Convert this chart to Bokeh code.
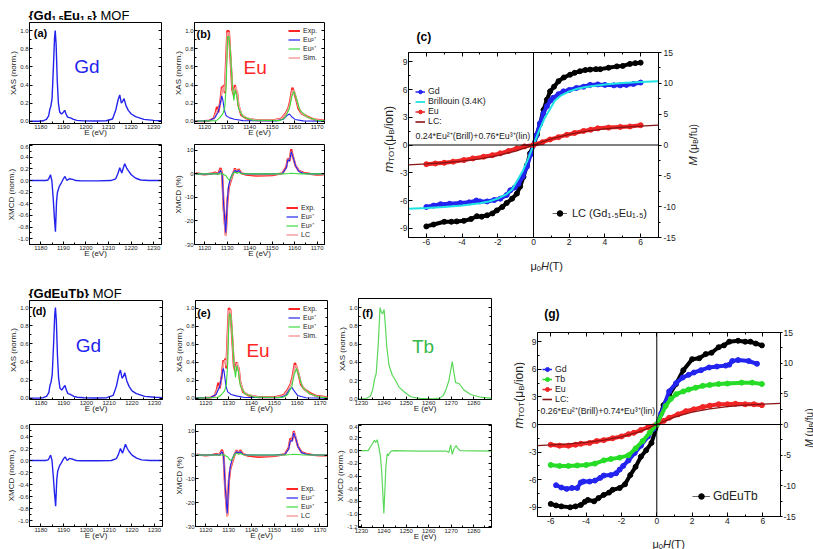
import math
from bokeh.plotting import figure
from bokeh.models import (Range1d, LinearAxis, FixedTicker, PrintfTickFormatter, Label,
                          Legend, LegendItem, Span)
from bokeh.layouts import row, column
from bokeh.embed import file_html
from bokeh.resources import INLINE

# ---------------- tick values ----------------
gd_xt = [1180, 1190, 1200, 1210, 1220, 1230]
gd_xm = [1175, 1185, 1195, 1205, 1215, 1225]
eu_xt = [1120, 1130, 1140, 1150, 1160, 1170]
eu_xm = [1125, 1135, 1145, 1155, 1165]
tb_xt = [1230, 1240, 1250, 1260, 1270, 1280]
tb_xm = [1235, 1245, 1255, 1265, 1275, 1285]
xas_yt = [0.0, 0.2, 0.4, 0.6, 0.8, 1.0]
xas_ym = [0.1, 0.3, 0.5, 0.7, 0.9]
gdm_yt = [-1.0, -0.8, -0.6, -0.4, -0.2, 0.0, 0.2, 0.4, 0.6]
gdm_ym = [-0.9, -0.7, -0.5, -0.3, -0.1, 0.1, 0.3, 0.5]
eum_yt = [-30, -20, -10, 0, 10]
eum_ym = [-25, -15, -5, 5]
tbm_yt = [-1.2, -1.0, -0.8, -0.6, -0.4, -0.2, 0.0, 0.2, 0.4]
tbm_ym = [-1.1, -0.9, -0.7, -0.5, -0.3, -0.1, 0.1, 0.3]
m_xt = [-6, -4, -2, 0, 2, 4, 6]
m_xm = [-7, -5, -3, -1, 1, 3, 5, 7]
m_yt = [-9, -6, -3, 0, 3, 6, 9]
m_ym = [-7.5, -4.5, -1.5, 1.5, 4.5, 7.5]
M_yt = [-15, -10, -5, 0, 5, 10, 15]
M_ym = [-12.5, -7.5, -2.5, 2.5, 7.5, 12.5]

# ---------------- Gd spectra ----------------
gd_e = [1175, 1179, 1181, 1182.5, 1183.5, 1184.0, 1184.5, 1185.0, 1185.6, 1186.1, 1186.4, 1186.8,
        1187.3, 1187.8, 1188.4, 1189.2, 1190.0, 1190.6, 1191.2, 1191.9, 1192.7, 1193.4, 1194.5,
        1196, 1199, 1204, 1209, 1211.8, 1213.2, 1214.3, 1215.0, 1215.7, 1216.3, 1216.9, 1217.8,
        1218.8, 1220.1, 1222.0, 1225.7, 1230, 1233.5]
gd_a_xas = [0, 0, 0.005, 0.02, 0.06, 0.13, 0.17, 0.25, 0.6, 0.92, 1.0, 0.85, 0.45, 0.2, 0.1, 0.08,
            0.1, 0.12, 0.08, 0.045, 0.04, 0.035, 0.02, 0.01, 0.004, 0.002, 0.005, 0.025, 0.12, 0.24,
            0.29, 0.2, 0.22, 0.25, 0.17, 0.12, 0.08, 0.05, 0.02, 0.01, 0.006]
gd_d_xas = [0, 0, 0.005, 0.02, 0.06, 0.14, 0.18, 0.26, 0.6, 0.92, 1.0, 0.86, 0.47, 0.22, 0.11, 0.09,
            0.12, 0.14, 0.09, 0.05, 0.045, 0.035, 0.02, 0.01, 0.004, 0.002, 0.005, 0.03, 0.13, 0.26,
            0.31, 0.22, 0.24, 0.28, 0.19, 0.13, 0.08, 0.05, 0.02, 0.01, 0.006]
gdm_e = [1175, 1182, 1183.2, 1183.8, 1184.3, 1184.9, 1185.5, 1186.0, 1186.5, 1187.0, 1187.4, 1188.2,
         1189.0, 1190.0, 1190.7, 1191.6, 1192.6, 1194.1, 1195.6, 1198, 1205, 1211, 1213.2, 1214.2,
         1215.0, 1215.9, 1216.6, 1217.2, 1218.0, 1218.8, 1220.1, 1222.1, 1224.3, 1228, 1233.5]
gd_a_mcd = [0, 0, 0.01, 0.05, 0.1, 0.0, -0.3, -0.62, -0.88, -0.35, -0.2, -0.1, -0.05, 0.03, 0.07,
            0.0, 0.03, 0.02, 0.0, -0.005, -0.005, 0.0, 0.03, 0.12, 0.22, 0.13, 0.22, 0.29, 0.22,
            0.17, 0.1, 0.04, 0.01, 0.0, 0.0]
gd_d_mcd = [0, 0, 0.01, 0.05, 0.09, 0.0, -0.28, -0.55, -0.76, -0.32, -0.18, -0.09, -0.04, 0.03,
            0.06, 0.0, 0.035, 0.02, 0.0, -0.005, -0.005, 0.0, 0.03, 0.11, 0.2, 0.12, 0.2, 0.27,
            0.2, 0.15, 0.09, 0.04, 0.01, 0.0, 0.0]

# ---------------- Eu spectra ----------------
eu_exp_e = [1115.5, 1120, 1122.2, 1124.0, 1124.8, 1125.5, 1126.1, 1127.0, 1127.7, 1128.2, 1128.6,
            1129.0, 1129.6, 1130.1, 1130.8, 1131.5, 1132.3, 1132.9, 1133.5, 1133.9, 1134.4, 1135.0,
            1136.3, 1138.6, 1143.0, 1150.5, 1154.2, 1156.0, 1157.2, 1158.0, 1159.0, 1159.7, 1160.6,
            1161.7, 1163.1, 1165.4, 1168.3, 1173.3]
eu_b_exp = [0.0, 0.002, 0.007, 0.03, 0.086, 0.16, 0.1, 0.22, 0.38, 0.37, 0.4, 0.31, 0.7, 1.0, 0.99,
            0.7, 0.35, 0.29, 0.4, 0.31, 0.33, 0.18, 0.067, 0.03, 0.011, 0.011, 0.03, 0.086, 0.14,
            0.22, 0.37, 0.33, 0.25, 0.14, 0.086, 0.056, 0.022, 0.007]
eu_b_sim = [0, 0.002, 0.006, 0.025, 0.07, 0.12, 0.12, 0.2, 0.34, 0.37, 0.38, 0.33, 0.65, 0.97, 0.98,
            0.72, 0.38, 0.3, 0.36, 0.38, 0.34, 0.2, 0.08, 0.035, 0.012, 0.01, 0.028, 0.08, 0.13,
            0.2, 0.34, 0.34, 0.27, 0.16, 0.09, 0.05, 0.02, 0.006]
eu_e_exp = [0, 0.002, 0.007, 0.03, 0.09, 0.17, 0.11, 0.25, 0.42, 0.4, 0.44, 0.33, 0.72, 1.0, 0.98,
            0.7, 0.36, 0.3, 0.4, 0.33, 0.34, 0.19, 0.07, 0.03, 0.012, 0.012, 0.035, 0.1, 0.16, 0.24,
            0.39, 0.35, 0.27, 0.15, 0.1, 0.06, 0.025, 0.008]
eu_e_sim = [0, 0.002, 0.006, 0.025, 0.075, 0.13, 0.13, 0.23, 0.38, 0.41, 0.42, 0.36, 0.68, 0.97,
            0.98, 0.72, 0.38, 0.31, 0.37, 0.39, 0.34, 0.2, 0.08, 0.035, 0.012, 0.01, 0.03, 0.09,
            0.15, 0.22, 0.36, 0.36, 0.28, 0.17, 0.1, 0.05, 0.02, 0.006]
eu3_e = [1115.5, 1125.2, 1126.7, 1128.2, 1129.0, 1129.6, 1130.2, 1130.8, 1131.4, 1132.3, 1133.0,
         1133.6, 1134.4, 1135.1, 1137.1, 1141.5, 1153.5, 1155.7, 1157.7, 1158.7, 1159.7, 1160.9,
         1162.4, 1165.4, 1169.8, 1173.3]
eu_b_eu3 = [0, 0.007, 0.037, 0.086, 0.16, 0.4, 0.93, 0.94, 0.78, 0.4, 0.23, 0.35, 0.27, 0.14, 0.05,
            0.011, 0.007, 0.037, 0.14, 0.27, 0.33, 0.24, 0.12, 0.05, 0.011, 0.004]
eu_e_eu3 = [0, 0.007, 0.035, 0.08, 0.15, 0.38, 0.92, 0.94, 0.78, 0.4, 0.23, 0.36, 0.28, 0.14, 0.05,
            0.011, 0.007, 0.035, 0.13, 0.26, 0.33, 0.24, 0.12, 0.05, 0.011, 0.004]
eu2_e = [1115.5, 1122.2, 1124.5, 1126.0, 1127.0, 1127.6, 1128.0, 1128.8, 1129.6, 1131.1, 1133.3,
         1137.1, 1152.0, 1155.0, 1156.8, 1157.7, 1158.7, 1160.2, 1163.9, 1173.3]
eu_b_eu2 = [0, 0.007, 0.037, 0.1, 0.2, 0.28, 0.25, 0.12, 0.06, 0.037, 0.022, 0.007, 0.004, 0.022,
            0.067, 0.08, 0.05, 0.02, 0.004, 0.0]
eu_e_eu2 = [0, 0.008, 0.04, 0.12, 0.24, 0.33, 0.3, 0.14, 0.07, 0.04, 0.025, 0.008, 0.005, 0.03, 0.1,
            0.12, 0.08, 0.03, 0.005, 0.0]

eum_e = [1116, 1120, 1123, 1124.6, 1126.0, 1127.1, 1127.8, 1128.5, 1129.4, 1130.1, 1130.7, 1131.6,
         1132.6, 1133.5, 1134.2, 1135.1, 1136.3, 1138.5, 1142.9, 1147, 1150.2, 1154.6, 1156.3,
         1157.0, 1157.8, 1158.5, 1159.4, 1160.4, 1161.9, 1164, 1167, 1170, 1173]
eum_b_exp = [0.2, -0.2, 0.1, 0.6, 0.0, 2.5, 0.0, -15, -26, -12, -6, -3, 0.0, 2.3, 0.5, 2.0, 0.3,
             -0.3, -0.7, -0.6, -0.5, 0.3, 3.0, 6.5, 5.5, 10.5, 7.0, 3.5, 1.3, 0.5, 0.0, -0.3, -0.2]
eum_b_lc = [0, 0, 0, 0.3, 0, 1.8, -0.5, -16, -26.5, -11, -5.5, -2.5, 0.2, 1.8, 0.7, 1.6, 0.3, 0,
            -0.3, -0.3, -0.2, 0.2, 2.5, 6, 5.5, 9.5, 7.5, 3.5, 1.2, 0.3, 0, 0, 0]
eum_b_eu2 = [0, 0, 0, 0.2, 0, 1.5, -0.5, -14, -25, -11, -5, -1.5, 0.3, 1.5, 0.8, 1.5, 0.3, 0, 0, 0,
             0, 0.2, 2.5, 6, 5.5, 9.5, 7, 3.5, 1, 0.3, 0, 0, 0]
eum_e_exp = [0.2, -0.2, 0.1, 0.4, 0.0, 2.2, 0.0, -14, -25.5, -11, -6, -3, 0.0, 2.0, 0.6, 2.0, 0.4,
             -0.3, -0.8, -0.6, -0.4, 0.3, 3.0, 7.0, 6.0, 10.0, 7.0, 3.5, 1.3, 0.5, 0.0, -0.2, -0.2]
eum_e_lc = [0, 0, 0, 0.2, 0, 1.6, -0.5, -15, -26, -10.5, -5.5, -2.5, 0.2, 1.7, 0.8, 1.6, 0.3, 0,
            -0.3, -0.3, -0.2, 0.2, 2.5, 6.2, 6.0, 9.5, 7.5, 3.5, 1.2, 0.3, 0, 0, 0]
eum_e_eu2 = [0, 0, 0, 0.2, 0, 1.4, -0.5, -13.5, -24.5, -10.5, -5, -1.5, 0.3, 1.4, 0.8, 1.4, 0.3, 0,
             0, 0, 0, 0.2, 2.5, 6, 5.8, 9.3, 7, 3.5, 1, 0.3, 0, 0, 0]
eum3_e = [1116, 1128, 1129.5, 1130.3, 1131.0, 1131.8, 1132.6, 1133.5, 1134.3, 1135.2, 1136.5, 1140,
          1155, 1157.5, 1158.5, 1160, 1163, 1173]
eum_b_eu3 = [0, 0, -0.8, -2.0, -2.6, -1.5, 0.2, 0.8, 0.3, 0.6, 0.1, 0, 0, 0.2, 0.3, 0.2, 0, 0]
eum_e_eu3 = [0, 0, -0.7, -1.8, -2.3, -1.4, 0.2, 0.8, 0.3, 0.6, 0.1, 0, 0, 0.2, 0.3, 0.2, 0, 0]

# ---------------- Tb spectra ----------------
tb_e = [1228.7, 1232, 1234, 1235, 1235.9, 1236.6, 1237.5, 1238.3, 1238.9, 1239.4, 1240.1, 1240.7,
        1241.3, 1242.3, 1243.8, 1245.3, 1246.8, 1249, 1252, 1256, 1262, 1265, 1266.5, 1267.5, 1269,
        1270.5, 1271.3, 1272, 1273.5, 1275.7, 1278.7, 1283.2, 1288]
tb_xas = [0, 0.005, 0.03, 0.1, 0.22, 0.28, 0.6, 1.0, 0.95, 0.93, 0.98, 0.8, 0.57, 0.37, 0.26, 0.2,
          0.13, 0.08, 0.025, 0.007, 0.003, 0.01, 0.04, 0.09, 0.2, 0.41, 0.28, 0.18, 0.17, 0.1, 0.05,
          0.02, 0.008]
tbm_e = [1228.7, 1233, 1234.8, 1235.8, 1236.4, 1237.0, 1237.8, 1238.5, 1239.0, 1239.4, 1240.0,
         1240.4, 1240.9, 1241.5, 1242.0, 1242.5, 1243.3, 1244.5, 1255, 1268, 1269, 1269.8, 1270.5,
         1271.2, 1272.2, 1273, 1274, 1288]
tb_mcd = [0, 0, 0.1, 0.16, 0.13, 0.17, 0.05, -0.1, -0.31, -0.57, -0.99, -0.68, -0.26, -0.05, -0.08,
          -0.04, -0.01, 0.0, -0.01, -0.01, -0.03, 0.09, -0.06, 0.02, 0.08, 0.03, 0.0, -0.01]

# ---------------- magnetization (c) ----------------
c_gd_h = [-6.0, -5.6, -5.2, -4.7, -4.1, -3.6, -3.2, -3.0, -2.6, -2.2, -1.86, -1.5, -1.3, -1.05, -0.84,
          -0.6, -0.37, -0.15, 0.0, 0.15, 0.37, 0.55, 0.75, 0.95, 1.1, 1.4, 1.68, 2.0, 2.4, 2.8, 3.17,
          3.6, 4.0, 4.5, 4.86, 5.2, 5.6, 6.0]
c_gd_m = [-6.7, -6.55, -6.4, -6.35, -6.27, -6.2, -6.0, -6.1, -6.1, -5.95, -5.8, -5.4, -4.9, -4.6, -4.2,
          -3.4, -2.35, -1.0, 0.0, 1.0, 2.35, 3.4, 4.2, 4.8, 5.1, 5.5, 5.8, 5.95, 6.16, 6.3, 6.5, 6.55,
          6.5, 6.45, 6.45, 6.5, 6.6, 6.75]
c_lc_h = [-6.0, -5.6, -5.0, -4.6, -4.3, -3.9, -3.5, -3.17, -2.9, -2.6, -2.3, -2.05, -1.75, -1.5, -1.2,
          -0.93, -0.75, -0.56, -0.37, -0.19, 0.0, 0.19, 0.37, 0.56, 0.75, 0.93, 1.15, 1.4, 1.7, 2.05,
          2.3, 2.6, 2.9, 3.17, 3.5, 3.74, 4.2, 4.67, 5.0, 5.4, 5.7, 6.0]
c_lc_m = [-8.8, -8.6, -8.3, -8.3, -8.26, -8.2, -8.0, -7.7, -7.75, -7.6, -7.4, -7.07, -6.7, -6.27, -5.8,
          -5.25, -4.5, -3.44, -2.2, -0.9, 0.0, 1.1, 2.3, 3.8, 4.9, 5.8, 6.3, 6.9, 7.3, 7.6, 7.8, 7.97,
          8.1, 8.15, 8.2, 8.2, 8.35, 8.5, 8.55, 8.77, 8.85, 8.9]
c_eu_h = [-6.0, -5.5, -5.0, -4.5, -3.9, -3.4, -2.8, -2.3, -1.86, -1.4, -0.93, -0.5, 0.0, 0.5, 0.93,
          1.4, 1.86, 2.3, 2.8, 3.2, 3.6, 4.2, 4.86, 5.4, 6.0]
c_eu_m = [-2.07, -2.0, -1.92, -1.8, -1.63, -1.45, -1.27, -1.1, -0.9, -0.65, -0.36, -0.15, 0.0, 0.3,
          0.6, 0.85, 1.1, 1.3, 1.52, 1.65, 1.8, 1.88, 1.95, 2.0, 2.14]
c_fit_h = [-7, -6, -5, -4, -3, -2, -1, -0.5, 0, 0.5, 1, 2, 3, 4, 5, 6, 7]
c_fit_m = [-2.15, -2.05, -1.92, -1.75, -1.5, -1.15, -0.65, -0.33, 0.0, 0.33, 0.65, 1.15, 1.5, 1.75,
           1.92, 2.05, 2.15]
c_bri_h = [-7, -6, -5, -4, -3, -2.5, -2, -1.5, -1.2, -0.9, -0.6, -0.3, 0, 0.3, 0.6, 0.9, 1.2, 1.5, 2,
           2.5, 3, 4, 5, 6, 7]
c_bri_m = [-6.88, -6.8, -6.7, -6.55, -6.3, -6.1, -5.8, -5.3, -4.8, -3.8, -2.8, -1.5, 0.0, 1.5, 2.8,
           3.8, 4.8, 5.3, 5.8, 6.1, 6.3, 6.55, 6.7, 6.8, 6.88]

# ---------------- magnetization (g) ----------------
g_lc_h = [-6.0, -5.7, -5.4, -4.9, -4.6, -4.3, -4.07, -3.9, -3.55, -3.3, -3.0, -2.7, -2.5, -2.1, -1.8,
          -1.5, -1.2, -0.9, -0.6, -0.3, 0.38, 0.7, 1.09, 1.5, 2.0, 2.4, 2.77, 3.1, 3.5, 3.8, 4.1, 4.6,
          5.0, 5.3, 5.6, 5.95]
g_lc_m = [-8.63, -8.8, -8.9, -9.0, -8.9, -8.75, -8.4, -8.2, -8.35, -8.0, -7.65, -7.4, -7.1, -6.9,
          -6.5, -5.5, -4.6, -3.5, -2.8, -2.0, 2.1, 3.2, 4.4, 5.9, 7.1, 7.2, 7.65, 7.8, 8.4, 8.6, 9.0,
          9.1, 9.0, 9.0, 8.8, 8.6]
g_gd_h = [-5.7, -5.4, -5.1, -4.8, -4.5, -4.3, -4.15, -3.8, -3.5, -3.2, -3.0, -2.6, -2.3, -2.1, -1.9,
          -1.6, -1.25, -0.9, -0.5, -0.2, 0.0, 0.25, 0.7, 1.1, 1.46, 1.8, 2.1, 2.5, 2.96, 3.4, 3.9,
          4.1, 4.27, 4.6, 5.2, 5.67]
g_gd_m = [-6.6, -6.85, -7.0, -6.9, -6.9, -6.3, -6.2, -6.2, -6.1, -5.8, -5.55, -5.5, -5.3, -4.9, -4.5,
          -3.9, -3.1, -2.3, -1.3, -0.5, 0.0, 1.2, 3.6, 4.5, 5.1, 5.4, 5.65, 5.9, 6.2, 6.3, 6.4, 6.5,
          6.9, 7.0, 6.9, 6.6]
g_tb_h = [-6.0, -5.5, -5.0, -4.5, -4.0, -3.5, -3.0, -2.6, -2.1, -1.6, -1.2, -0.8, -0.4, 0.0, 0.5,
          0.8, 1.1, 1.5, 1.8, 2.2, 2.6, 3.0, 3.5, 4.0, 4.8, 5.4, 5.95]
g_tb_m = [-4.4, -4.5, -4.5, -4.45, -4.4, -4.25, -3.9, -3.75, -3.6, -3.35, -2.6, -1.8, -0.9, 0.0,
          2.0, 2.8, 3.3, 3.6, 3.8, 4.0, 4.2, 4.3, 4.4, 4.45, 4.55, 4.55, 4.4]
g_eu_h = [-6.0, -5.5, -5.0, -4.6, -4.3, -3.8, -3.4, -3.0, -2.5, -2.0, -1.6, -1.3, -0.9, -0.5, 0.0,
          0.4, 0.7, 1.2, 1.65, 2.1, 2.6, 3.0, 3.5, 4.0, 4.45, 5.0, 5.5, 5.95]
g_eu_m = [-2.2, -2.3, -2.3, -2.2, -2.1, -2.0, -1.8, -1.7, -1.5, -1.3, -1.05, -0.9, -0.6, -0.3, 0.0,
          0.4, 0.73, 1.1, 1.45, 1.65, 1.9, 2.05, 2.2, 2.2, 2.25, 2.2, 2.2, 2.1]
g_fit_h = [-6.75, -6, -5, -4, -3, -2, -1, -0.5, 0, 0.5, 1, 2, 3, 4, 5, 6, 7]
g_fit_m = [-2.3, -2.22, -2.1, -1.95, -1.7, -1.35, -0.8, -0.42, 0.0, 0.42, 0.8, 1.35, 1.7, 1.95, 2.1,
           2.22, 2.3]

# ---------------- style ----------------
FONT = "Liberation Sans"
INK = "#222222"
BLUE = "#2323ee"
RED = "#ff2525"
GREEN = "#3ddc3d"
PINK = "#f6a5a5"
TBG = "#5ad85a"
MB = "#2424f0"
MR = "#f02424"
MG = "#26dc26"
CYAN = "#1fe3e3"
LCD = "#8a1414"
NAN = float("nan")

W_N = {'{': .334, '}': .334, 'G': .778, 'd': .556, 'E': .667, 'u': .556, '.': .278, ' ': .278,
       'M': .833, 'O': .778, 'F': .611, 'm': .833, 'T': .611, '(': .333, ')': .333, 'μ': .576,
       'B': .667, '/': .278, 'i': .222, 'o': .556, 'n': .556, 'f': .278, 'H': .722, 'b': .556}
W_B = {'{': .389, '}': .389, 'G': .778, 'd': .611, 'E': .667, 'u': .611, '.': .278, ' ': .278,
       'T': .611, 'b': .611}


def tw(s, fs, bold=False):
    tbl = W_B if bold else W_N
    return sum(tbl.get(ch, 0.556) for ch in s) * fs


def txt(p, x, y, s, fs, color=INK, style="normal", align="left", baseline="alphabetic", angle=0.0):
    p.add_layout(Label(x=x, y=y, x_units="screen", y_units="screen", text=s,
                       text_font=FONT, text_font_size=f"{fs}px", text_color=color,
                       text_font_style=style, text_align=align, text_baseline=baseline,
                       angle=angle))


def chain(p, x, y, pieces, angle=0.0, color=INK):
    pos = 0.0
    for s, fs, sh, st in pieces:
        bold = "bold" in st
        stripped = s.lstrip(" ")
        pos += tw(s[:len(s) - len(stripped)], fs, bold)
        if angle == 0.0:
            px, py = x + pos, y + sh
        else:
            px, py = x - sh, y + pos
        txt(p, px, py, stripped, fs, color=color, style=st, angle=angle)
        pos += tw(stripped, fs, bold)


def style_axis(ax, ticks, minor, fmt, fs, label=None, standoff=2, t_in=3, t_out=0, lso=1, lfs=8):
    ax.ticker = FixedTicker(ticks=ticks, minor_ticks=minor)
    ax.formatter = PrintfTickFormatter(format=fmt)
    ax.major_label_text_font = FONT
    ax.major_label_text_font_size = f"{fs}px"
    ax.major_label_text_color = INK
    ax.major_label_standoff = standoff
    ax.major_tick_in = t_in
    ax.major_tick_out = t_out
    ax.minor_tick_in = 2 if t_in else 0
    ax.minor_tick_out = 2 if t_out else 0
    ax.axis_line_color = "black"
    ax.major_tick_line_color = "black"
    ax.minor_tick_line_color = "black"
    if label:
        ax.axis_label = label
        ax.axis_label_text_font = FONT
        ax.axis_label_text_font_size = f"{lfs}px"
        ax.axis_label_text_font_style = "normal"
        ax.axis_label_text_color = INK
        ax.axis_label_standoff = lso


def mirror(p, loc, ticks, minor, t_in=3):
    ax = LinearAxis(ticker=FixedTicker(ticks=ticks, minor_ticks=minor))
    ax.major_label_text_font_size = "0px"
    ax.major_label_text_alpha = 0
    ax.major_label_standoff = 0
    ax.major_tick_in = t_in
    ax.major_tick_out = 0
    ax.minor_tick_in = 2
    ax.minor_tick_out = 0
    ax.axis_line_color = None
    p.add_layout(ax, loc)


def base_fig(xr, yr, fw, fh, bl, br, bt, bb):
    p = figure(frame_width=fw, frame_height=fh, x_range=Range1d(*xr), y_range=Range1d(*yr),
               output_backend="svg", toolbar_location=None, tools="",
               min_border_left=bl, min_border_right=br, min_border_top=bt, min_border_bottom=bb,
               background_fill_color="white", border_fill_color="white")
    p.xgrid.visible = False
    p.ygrid.visible = False
    p.outline_line_color = "black"
    p.outline_line_width = 1
    return p


def blank(w, h):
    p = figure(frame_width=w, frame_height=h, x_range=Range1d(0, w), y_range=Range1d(0, h),
               output_backend="svg", toolbar_location=None, tools="",
               x_axis_type=None, y_axis_type=None,
               min_border_left=0, min_border_right=0, min_border_top=0, min_border_bottom=0,
               background_fill_color="white", border_fill_color="white")
    p.outline_line_color = None
    return p


def spec_fig(xr, yr, fw, fh, bl, br, bt, bb, xt, xm, yt, ym, yfmt, ylabel):
    p = base_fig(xr, yr, fw, fh, bl, br, bt, bb)
    style_axis(p.xaxis[0], xt, xm, "%d", 6, "E (eV)", standoff=1, lso=-4, lfs=8)
    style_axis(p.yaxis[0], yt, ym, yfmt, 6, ylabel, standoff=1, lso=-1, lfs=8)
    mirror(p, "right", yt, ym)
    return p


def legend(p, entries, loc, fs, gw, gh, standoff=3):
    items = []
    for lab, col, lw, dot, dcol in entries:
        rs = [p.line([NAN], [NAN], line_color=col, line_width=lw)]
        if dot:
            rs.append(p.scatter([NAN], [NAN], marker="circle", size=dot, fill_color=dcol,
                                line_color=dcol))
        items.append(LegendItem(label=lab, renderers=rs))
    lg = Legend(items=items, location=loc, label_text_font=FONT, label_text_font_size=f"{fs}px",
                label_text_color=INK, glyph_width=gw, glyph_height=gh, label_height=gh,
                label_width=10, label_standoff=standoff, spacing=0, padding=0, margin=0,
                border_line_alpha=0, background_fill_alpha=0)
    p.add_layout(lg)


def dots(p, x, y, color, lw=4, size=5):
    p.line(x, y, line_color=color, line_width=lw, line_join="round", line_cap="round")
    p.scatter(x, y, marker="circle", size=size, fill_color=color, line_color=color)


def mag_fig(xr, fw, fh, bl, br, bt, bb, r_out, r_so):
    p = base_fig(xr, (-10, 10), fw, fh, bl, br, bt, bb)
    p.extra_y_ranges = {"M": Range1d(-15, 15)}
    style_axis(p.xaxis[0], m_xt, m_xm, "%d", 8.5, None, standoff=1, t_in=4)
    style_axis(p.yaxis[0], m_yt, m_ym, "%d", 8.5, None, standoff=1, t_in=4)
    rax = LinearAxis(y_range_name="M")
    style_axis(rax, M_yt, M_ym, "%d", 8.5, None, standoff=r_so, t_in=0, t_out=r_out)
    p.add_layout(rax, "right")
    mirror(p, "above", m_xt, m_xm, 4)
    p.add_layout(Span(location=0, dimension="height", line_color="black", line_width=1))
    p.add_layout(Span(location=0, dimension="width", line_color="black", line_width=1))
    return p


def eu_xas(p, exp, sim, e3, e2):
    p.line(eu_exp_e, exp, line_color=RED, line_width=2.2)
    p.line(eu_exp_e, sim, line_color=PINK, line_width=1.5)
    p.line(eu2_e, e2, line_color=BLUE, line_width=1.1)
    p.line(eu3_e, e3, line_color=GREEN, line_width=1.1)


def eu_mcd(p, exp, lc, e2, e3):
    p.line(eum_e, exp, line_color=RED, line_width=2.2)
    p.line(eum_e, lc, line_color=PINK, line_width=1.6)
    p.line(eum_e, e2, line_color=BLUE, line_width=1.1)
    p.line(eum3_e, e3, line_color=GREEN, line_width=1.1)


XAS_LEG = [("Exp.", RED, 2, None, None), ("Eu²⁺", BLUE, 1.2, None, None),
           ("Eu³⁺", GREEN, 1.2, None, None), ("Sim.", PINK, 1.6, None, None)]
MCD_LEG = [("Exp.", RED, 2, None, None), ("Eu²⁺", BLUE, 1.2, None, None),
           ("Eu³⁺", GREEN, 1.2, None, None), ("LC", PINK, 1.6, None, None)]
MU_H = [("μ", 11, 0, "normal"), ("0", 7.5, -2.5, "normal"), ("H", 11, 0, "italic"),
        ("(T)", 11, 0, "normal")]
M_TOT = [("m", 13, 0, "italic"), ("TOT", 8, -3, "normal"), ("(μ", 12, 0, "normal"),
         ("B", 8, -3, "normal"), ("/ion)", 12, 0, "normal")]
M_FU_C = [("M", 11, 0, "italic"), (" (μ", 10.5, 0, "normal"), ("B", 7, -2.5, "normal"),
          ("/fu)", 10.5, 0, "normal")]
M_FU_G = [("M", 10, 0, "italic"), (" (μ", 10, 0, "normal"), ("B", 6.5, -2, "normal"),
          ("/fu)", 10, 0, "normal")]

# ================= top band (y 0..280) =================
T_top = blank(340, 20)
chain(T_top, 28, 5, [("{Gd", 13, 0, "bold"), ("1.5", 8.5, -3, "bold"), ("Eu", 13, 0, "bold"),
                     ("1.5", 8.5, -3, "bold"), ("}", 13, 0, "bold"), (" MOF", 13, 0, "normal")],
      color="black")

A1 = spec_fig((1175, 1233.5), (-0.025, 1.09), 132, 101, 29, 7, 2, 21, gd_xt, gd_xm, xas_yt, xas_ym,
              "%.1f", "XAS (norm.)")
A1.line(gd_e, gd_a_xas, line_color=BLUE, line_width=1.4)
txt(A1, 57.5, 57, "Gd", 19, color=BLUE, align="center", baseline="middle")
txt(A1, 4.3, 90.7, "(a)", 11, color="black", style="bold", baseline="middle")

A2 = spec_fig((1175, 1233.5), (-1.1, 0.62), 132, 100, 29, 7, 0, 36, gd_xt, gd_xm, gdm_yt, gdm_ym,
              "%.1f", "XMCD (norm.)")
A2.line(gdm_e, gd_a_mcd, line_color=BLUE, line_width=1.4)

B1 = spec_fig((1115.5, 1173.3), (-0.025, 1.09), 130, 101, 26, 16, 2, 21, eu_xt, eu_xm, xas_yt, xas_ym,
              "%.1f", "XAS (norm.)")
eu_xas(B1, eu_b_exp, eu_b_sim, eu_b_eu3, eu_b_eu2)
txt(B1, 60.7, 56.5, "Eu", 19, color=RED, align="center", baseline="middle")
txt(B1, 2, 89.2, "(b)", 11, color="black", style="bold", baseline="middle")
legend(B1, XAS_LEG, (94, 61), 7, 12, 9)

B2 = spec_fig((1115.5, 1173.3), (-30, 12.5), 130, 100, 26, 16, 0, 36, eu_xt, eu_xm, eum_yt, eum_ym,
              "%d", "XMCD (%)")
eu_mcd(B2, eum_b_exp, eum_b_lc, eum_b_eu2, eum_b_eu3)
legend(B2, MCD_LEG, (92, 5), 7, 12, 9)

# magnetisation panel (c): frame at x 408..658, y 52..237
Lc = blank(56, 280)
chain(Lc, 48, 108, M_TOT, angle=math.pi / 2)
Tc = blank(284, 48)
txt(Tc, 8, 11.3, "(c)", 12, color="black", style="bold", baseline="middle")
C = mag_fig((-7, 7), 250, 185, 12, 22, 4, 16, 3, 2)
dots(C, c_lc_h, c_lc_m, "black")
dots(C, c_gd_h, c_gd_m, MB)
C.line(c_bri_h, c_bri_m, line_color=CYAN, line_width=2)
dots(C, c_eu_h, c_eu_m, MR)
C.line(c_fit_h, c_fit_m, line_color=LCD, line_width=1.3)
legend(C, [("Gd", MB, 1.5, 5, MB), ("Brillouin (3.4K)", CYAN, 1.8, None, None),
           ("Eu", MR, 1.5, 5, MR), ("LC:", LCD, 1.6, None, None)], (7, 111), 8.8, 10, 9)
legend(C, [("LC (Gd₁.₅Eu₁.₅)", "#666666", 1, 6, "black")], (144, 17), 11, 15, 14, standoff=5)
txt(C, 7, 102, "0.24*Eu²⁺(Brill)+0.76*Eu³⁺(lin)", 8.8, baseline="middle")
Bc = blank(284, 27)
chain(Bc, 122, 15, MU_H)
Rc = blank(133, 280)
chain(Rc, 12, 115, M_FU_C, angle=math.pi / 2)

top = row(column(T_top, row(column(A1, A2), column(B1, B2))), Lc, column(Tc, C, Bc), Rc)

# ================= bottom band (y 280..549) =================
T_bot = blank(505, 18)
chain(T_bot, 28, 5.5, [("{GdEuTb}", 13, 0, "bold"), (" MOF", 13, 0, "normal")], color="black")

D1 = spec_fig((1175, 1233.5), (-0.015, 1.078), 133, 99, 29, 6, 2, 25, gd_xt, gd_xm, xas_yt, xas_ym,
              "%.1f", "XAS (norm.)")
D1.line(gd_e, gd_d_xas, line_color=BLUE, line_width=1.4)
txt(D1, 59, 54, "Gd", 19, color=BLUE, align="center", baseline="middle")
txt(D1, 2.7, 88.2, "(d)", 11, color="black", style="bold", baseline="middle")

D2 = spec_fig((1175, 1233.5), (-1.1, 0.6), 133, 102, 29, 6, 0, 23, gd_xt, gd_xm, gdm_yt, gdm_ym,
              "%.1f", "XMCD (norm.)")
D2.line(gdm_e, gd_d_mcd, line_color=BLUE, line_width=1.4)

E1 = spec_fig((1115.5, 1173.3), (-0.015, 1.085), 132, 99, 27, 4, 2, 25, eu_xt, eu_xm, xas_yt, xas_ym,
              "%.1f", "XAS (norm.)")
eu_xas(E1, eu_e_exp, eu_e_sim, eu_e_eu3, eu_e_eu2)
txt(E1, 62.5, 49, "Eu", 19, color=RED, align="center", baseline="middle")
txt(E1, 1.7, 86.5, "(e)", 11, color="black", style="bold", baseline="middle")
legend(E1, XAS_LEG, (93, 59), 7, 12, 9)

E2 = spec_fig((1115.5, 1173.3), (-30, 12.8), 132, 102, 27, 4, 0, 23, eu_xt, eu_xm, eum_yt, eum_ym,
              "%d", "XMCD (%)")
eu_mcd(E2, eum_e_exp, eum_e_lc, eum_e_eu2, eum_e_eu3)
legend(E2, MCD_LEG, (91, 6), 7, 12, 9)

F1 = spec_fig((1228.7, 1288), (-0.005, 1.1), 133, 101, 27, 14, 0, 25, tb_xt, tb_xm, xas_yt, xas_ym,
              "%.1f", "XAS (norm.)")
F1.line(tb_e, tb_xas, line_color=TBG, line_width=1.2)
txt(F1, 64.5, 53, "Tb", 19, color="#36b84a", align="center", baseline="middle")
txt(F1, 3.7, 86.5, "(f)", 11, color="black", style="bold", baseline="middle")

F2 = spec_fig((1228.7, 1288), (-1.21, 0.41), 133, 103, 27, 14, 0, 22, tb_xt, tb_xm, tbm_yt, tbm_ym,
              "%.1f", "XMCD (norm.)")
F2.line(tbm_e, tb_mcd, line_color=TBG, line_width=1.2)

# magnetisation panel (g): frame at x 537..780, y 332..516
Lg = blank(20, 269)
chain(Lg, 13, 121, M_TOT, angle=math.pi / 2)
Tg = blank(273, 48)
txt(Tg, 6.7, 15, "(g)", 12, color="black", style="bold", baseline="middle")
G = mag_fig((-6.75, 7), 243, 184, 12, 18, 4, 16, 2, 1)
dots(G, g_lc_h, g_lc_m, "black")
dots(G, g_gd_h, g_gd_m, MB)
dots(G, g_eu_h, g_eu_m, MR)
dots(G, g_tb_h, g_tb_m, MG)
G.line(g_fit_h, g_fit_m, line_color=LCD, line_width=1.3)
legend(G, [("Gd", MB, 1.5, 5, MB), ("Tb", MG, 1.5, 5, MG), ("Eu", MR, 1.5, 5, MR),
           ("LC:", LCD, 1.6, None, None)], (5, 112), 8.8, 10, 10)
legend(G, [("GdEuTb", "#666666", 1, 6, "black")], (155, 13), 12, 18, 14, standoff=3)
txt(G, 3, 106, "0.26*Eu²⁺(Brill)+0.74*Eu³⁺(lin)", 8.8, baseline="middle")
Bg = blank(273, 17)
chain(Bg, 115, 6, MU_H)
Rg = blank(15, 269)
chain(Rg, 11, 102, M_FU_G, angle=math.pi / 2)

bottom = row(column(T_bot, row(column(D1, D2), column(E1, E2), column(F1, F2))),
             Lg, column(Tg, G, Bg), Rg)

page = column(top, bottom)

open("out.html", "w").write(file_html(page, INLINE))
